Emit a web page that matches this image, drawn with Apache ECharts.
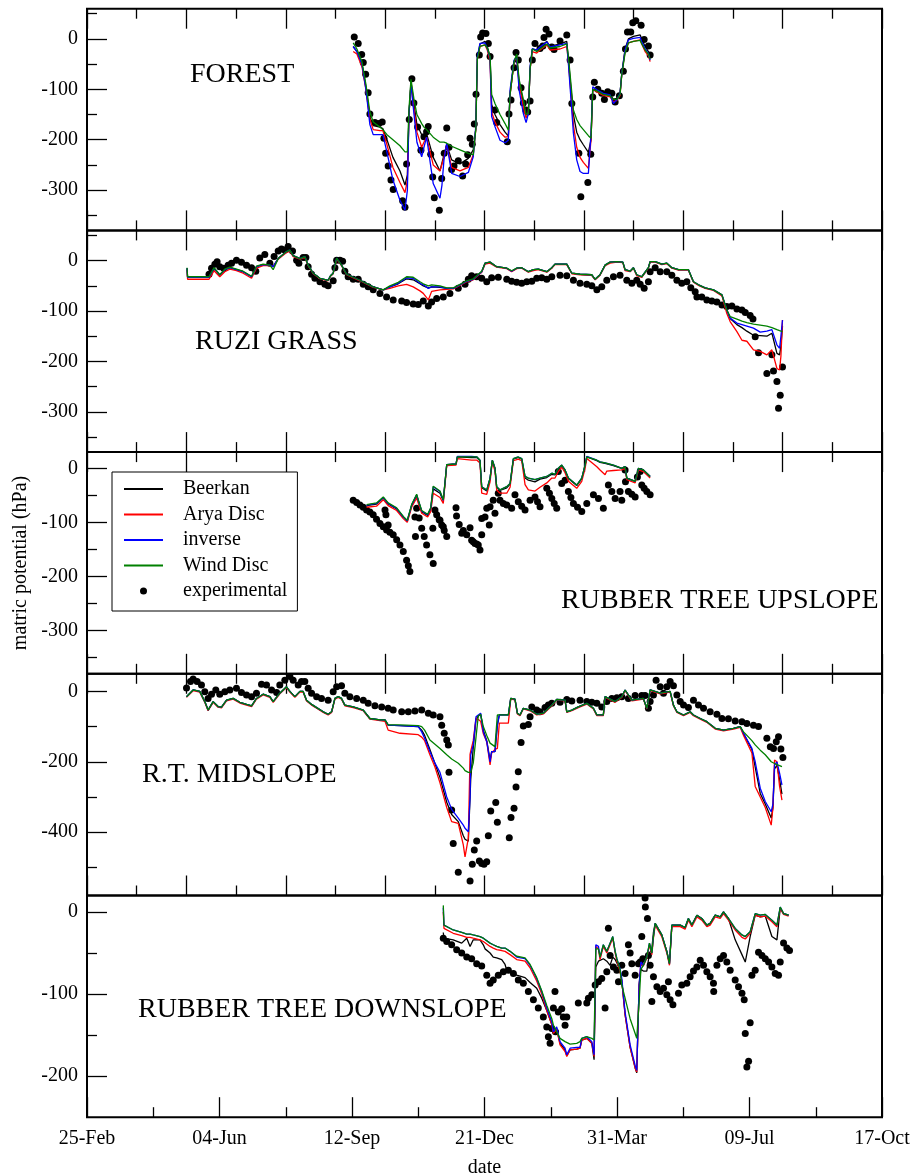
<!DOCTYPE html>
<html>
<head>
<meta charset="utf-8">
<script src="https://cdn.jsdelivr.net/npm/echarts@6/dist/echarts.min.js"></script>
<style>
html,body{margin:0;padding:0;background:#fff;}
#chart{width:913px;height:1174px;}
</style>
</head>
<body>
<div id="chart"></div>
<script>
// ---------------- DATA (x = days after 25-Feb, y = matric potential in hPa) ----------------
const tickLabels = ['25-Feb','04-Jun','12-Sep','21-Dec','31-Mar','09-Jul','17-Oct'];
const seriesNames = ['Beerkan','Arya Disc','inverse','Wind Disc','experimental'];

// FOREST
const forestDays = [200.9,203.7,207.5,210.5,213.5,216.0,221.1,223.3,226.4,230.9,236.2,240.0,241.8,243.0,244.5,246.8,249.0,252.6,254.3,256.3,261.3,266.4,267.9,269.4,271.5,275.2,281.5,287.8,291.5,293.4,294.6,296.6,300.4,302.1,304.2,305.4,307.9,311.7,315.5,318.0,319.3,322.3,324.3,326.1,329.3,331.4,333.1,334.4,336.1,339.4,341.9,347.0,349.5,357.0,362.1,363.3,365.3,367.1,369.6,372.1,374.6,378.4,380.4,381.7,384.8,389.7,394.8,397.3,399.9,402.3,403.6,406.1,408.6,412.4,417.5,418.7,421.2,423.7,425.0];
const forestBeerkan = [-15,-25,-50,-95,-155,-172,-175,-178,-200,-235,-262,-290,-270,-150,-85,-130,-170,-190,-190,-188,-235,-262,-265,-230,-210,-240,-248,-237,-220,-180,-40,-10,-5,-15,-35,-130,-150,-170,-185,-193,-110,-45,-35,-85,-125,-150,-145,-60,-20,-22,-15,-5,-15,-10,-5,-40,-100,-150,-185,-200,-210,-225,-200,-100,-100,-108,-110,-120,-118,-108,-70,-20,0,5,8,0,-15,-25,-38];
const forestArya = [-25,-30,-55,-100,-160,-180,-182,-182,-210,-255,-285,-305,-280,-150,-90,-140,-185,-215,-205,-195,-250,-262,-265,-235,-210,-255,-262,-255,-230,-180,-40,-15,-12,-22,-45,-145,-165,-185,-195,-194,-110,-45,-35,-90,-135,-157,-145,-60,-25,-28,-22,-12,-22,-20,-15,-45,-110,-170,-215,-235,-245,-257,-200,-100,-105,-112,-115,-125,-122,-112,-70,-25,-8,-5,-2,-10,-25,-33,-45];
const forestInverse = [-15,-25,-50,-100,-170,-190,-190,-190,-225,-280,-320,-340,-300,-150,-90,-150,-205,-234,-215,-195,-287,-316,-290,-240,-207,-267,-273,-265,-234,-174,-35,-9,-8,-19,-38,-154,-174,-201,-206,-201,-101,-42,-35,-101,-148,-166,-148,-55,-19,-22,-16,-6,-16,-12,-9,-48,-121,-187,-240,-263,-267,-267,-187,-95,-101,-108,-111,-128,-121,-108,-68,-22,-2,1,3,-6,-19,-29,-42];
const forestWind = [-8,-20,-45,-90,-145,-165,-175,-180,-190,-200,-212,-224,-224,-140,-80,-120,-150,-168,-175,-180,-195,-205,-205,-205,-207,-213,-220,-227,-230,-180,-40,-15,-12,-18,-35,-110,-128,-150,-168,-181,-110,-45,-30,-80,-120,-150,-148,-60,-20,-25,-20,-10,-18,-15,-10,-35,-90,-141,-160,-172,-180,-192,-197,-100,-103,-110,-113,-120,-120,-110,-70,-28,-8,-5,-3,-10,-22,-30,-40];
const forestExp = [[201.7,4],[204.7,-9],[207.3,-31],[208.5,-47],[210.3,-70],[212.2,-107],[213.5,-149],[217.3,-166],[220.3,-168],[222.8,-165],[224.1,-197],[225.4,-227],[227.3,-252],[229.4,-280],[231.1,-299],[238.2,-321],[240.0,-334],[241.2,-248],[243.2,-160],[245.2,-79],[246.7,-127],[249.5,-175],[252.0,-221],[254.3,-194],[256.3,-184],[257.5,-174],[259.4,-229],[260.9,-274],[262.1,-315],[265.9,-340],[267.7,-277],[269.6,-227],[271.5,-177],[273.2,-215],[275.2,-259],[277.0,-252],[280.2,-242],[283.5,-272],[285.8,-248],[287.3,-230],[289.1,-197],[290.8,-209],[292.3,-169],[293.6,-110],[296.1,-32],[297.1,4],[298.6,12],[301.1,11],[302.9,-9],[304.2,-35],[307.9,-141],[309.2,-166],[317.2,-204],[318.5,-149],[320.0,-121],[322.3,-57],[323.8,-27],[325.5,-42],[327.6,-97],[329.3,-127],[331.1,-141],[332.6,-145],[334.4,-123],[336.1,-42],[338.1,-9],[341.9,-19],[344.0,-14],[344.9,3],[346.5,19],[348.7,10],[350.8,-16],[352.5,-21],[357.0,-4],[362.1,8],[364.6,-42],[365.9,-128],[371.2,-227],[372.7,-313],[378.0,-285],[380.2,-229],[381.7,-115],[382.9,-86],[385.5,-100],[388.5,-108],[390.5,-120],[393.0,-105],[396.1,-108],[398.6,-125],[401.8,-113],[404.8,-64],[406.4,-20],[407.9,14],[410.4,14],[411.9,32],[414.2,36],[418.2,27],[420.5,-1],[423.7,-14],[425.0,-32]];

// RUZI GRASS
const ruziDays = [75.5,75.9,92.1,95.9,100.2,104.0,107.8,112.8,117.8,124.2,127.9,132.9,138.0,140.5,144.3,150.6,153.1,155.6,160.7,164.4,166.9,170.7,175.8,182.0,183.8,185.8,188.4,192.1,195.9,206.0,216.0,223.6,228.6,234.9,241.2,246.2,251.3,253.8,257.6,260.1,266.4,271.5,276.5,286.6,291.5,297.9,300.4,304.1,309.2,316.8,320.5,324.3,328.1,333.1,336.9,340.6,347.0,350.8,353.2,362.1,365.9,372.1,380.9,383.5,387.2,391.0,394.8,399.9,404.4,406.1,409.9,412.4,414.9,418.7,423.7,425.0,428.8,433.8,437.6,441.4,446.4,453.9,457.7,461.5,466.5,472.8,479.2,482.9,485.4,490.5,494.3,498.0,503.0,508.1,513.1,516.9,520.7,522.7,523.7,524.9];
const ruziBeerkan = [-15,-33,-33,-16,-29,-19,-14,-18,-22,-32,-12,-8,-9,-12,4,18,21,10,4,8,-9,-25,-35,-39,-30,-25,5,-9,-27,-39,-52,-58,-52,-46,-36,-38,-46,-50,-54,-52,-53,-55,-55,-41,-37,-22,-5,-3,-12,-15,-21,-15,-14,-22,-18,-17,-22,-14,-7,-7,-25,-27,-28,-37,-28,-9,-3,-2,-3,-18,-21,-14,-28,-32,-14,-2,-2,-7,-5,-14,-18,-18,-42,-48,-54,-58,-68,-98,-115,-127,-133,-140,-148,-149,-150,-144,-184,-187,-170,-130];
const ruziArya = [-18,-37,-37,-20,-32,-22,-17,-20,-25,-35,-15,-10,-10,-12,3,16,19,8,3,6,-10,-26,-36,-40,-31,-26,3,-10,-28,-40,-53,-58,-55,-50,-47,-52,-60,-65,-78,-61,-58,-57,-56,-42,-38,-23,-7,-5,-13,-16,-22,-16,-15,-23,-20,-18,-23,-15,-8,-8,-26,-28,-29,-38,-29,-10,-5,-3,-4,-20,-22,-15,-30,-33,-15,-3,-3,-8,-6,-15,-19,-19,-43,-49,-55,-59,-70,-105,-121,-141,-158,-160,-177,-180,-187,-177,-214,-217,-190,-118];
const ruziInverse = [-15,-33,-33,-15,-28,-18,-14,-18,-22,-32,-12,-8,-9,-12,4,18,21,10,4,8,-9,-25,-35,-39,-30,-25,5,-9,-27,-39,-52,-58,-52,-45,-34,-35,-45,-48,-55,-52,-52,-55,-55,-41,-37,-22,-5,-3,-12,-15,-21,-15,-14,-22,-18,-17,-22,-14,-7,-7,-25,-27,-28,-37,-28,-9,-3,-2,-3,-18,-21,-14,-28,-32,-14,-2,-2,-7,-5,-14,-18,-18,-42,-48,-54,-58,-68,-98,-114,-124,-127,-130,-134,-142,-140,-137,-167,-174,-150,-118];
const ruziWind = [-14,-32,-32,-14,-28,-17,-13,-17,-21,-31,-11,-7,-9,-18,4,18,21,10,4,8,-9,-25,-35,-39,-30,-25,5,-9,-27,-39,-52,-58,-50,-43,-32,-33,-42,-46,-50,-48,-50,-54,-54,-40,-36,-21,-5,-3,-12,-15,-20,-15,-14,-22,-18,-17,-22,-14,-7,-7,-25,-27,-28,-37,-28,-9,-3,-2,-3,-18,-21,-14,-28,-32,-14,-2,-2,-7,-5,-14,-18,-18,-42,-48,-54,-58,-68,-98,-111,-116,-120,-123,-126,-128,-130,-133,-137,-139,-140,-141];
const ruziExp = [[92.1,-27],[94.0,-15],[96.5,-7],[98.2,-2],[100.2,-12],[103.2,-15],[106.5,-9],[109.1,-5],[112.8,1],[116.6,-3],[120.4,-9],[124.2,-14],[127.4,-21],[130.4,5],[134.2,12],[138.0,-5],[141.2,8],[144.3,19],[146.8,23],[149.3,21],[151.8,28],[155.1,19],[158.2,1],[159.9,-5],[163.1,6],[165.2,6],[166.9,-12],[169.5,-27],[172.0,-35],[175.8,-42],[179.5,-47],[182.0,-50],[185.8,-40],[187.1,-14],[188.4,1],[190.9,1],[192.9,-1],[194.6,-21],[197.1,-32],[200.9,-37],[204.7,-37],[208.5,-47],[212.2,-52],[216.0,-58],[221.1,-65],[226.1,-72],[231.1,-78],[237.5,-80],[241.2,-83],[246.2,-86],[250.0,-87],[253.8,-80],[257.6,-90],[260.1,-82],[263.9,-75],[268.9,-72],[273.9,-65],[280.2,-55],[285.3,-47],[287.8,-37],[290.3,-30],[294.1,-32],[297.9,-35],[301.7,-42],[305.4,-34],[310.4,-33],[316.8,-37],[320.5,-41],[324.3,-43],[328.1,-45],[331.9,-42],[335.7,-41],[339.4,-35],[343.2,-34],[347.0,-37],[350.8,-32],[357.0,-29],[362.1,-30],[367.1,-39],[372.1,-45],[377.2,-47],[381.0,-50],[384.8,-58],[388.5,-52],[392.3,-39],[397.3,-32],[402.3,-29],[407.4,-39],[411.2,-45],[414.9,-39],[417.5,-47],[420.5,-55],[423.7,-42],[425.0,-22],[428.8,-14],[432.6,-22],[437.6,-22],[441.4,-29],[445.2,-39],[448.9,-45],[452.7,-42],[455.7,-54],[459.0,-62],[460.3,-72],[464.0,-72],[467.8,-78],[471.6,-80],[475.4,-82],[479.2,-88],[482.9,-91],[486.7,-90],[490.5,-96],[494.3,-98],[496.8,-103],[500.5,-109],[502.6,-116],[504.3,-151],[506.8,-183],[513.1,-224],[516.9,-187],[518.1,-219],[520.7,-240],[523.2,-267],[521.9,-293],[524.9,-211]];

// RUBBER TREE UPSLOPE
const upDays = [211.0,218.5,223.6,227.3,233.7,238.7,241.7,245.0,248.8,250.0,252.6,257.1,259.4,261.3,266.4,268.9,271.5,278.5,279.5,290.3,294.3,296.6,297.9,301.7,304.2,305.9,307.9,309.2,311.7,316.8,319.3,321.8,325.5,328.1,330.6,333.1,338.1,341.9,347.0,350.8,353.2,355.7,358.3,360.8,363.3,369.6,373.4,375.9,377.2,384.8,387.2,391.0,392.3,397.3,403.6,406.1,407.4,413.7,416.2,419.9,425.0];
const upBeerkan = [-69,-66,-55,-66,-75,-90,-98,-69,-50,-60,-80,-87,-75,-38,-46,-60,7,8,21,20,20,14,-36,-42,-19,15,0,-35,-41,-36,-29,17,20,17,-18,-22,-25,-20,-17,-11,-12,-1,5,-4,-19,-32,-19,5,21,14,11,9,8,5,0,3,-18,-24,0,-3,-15];
const upArya = [-72,-70,-58,-69,-78,-93,-100,-72,-55,-64,-83,-90,-80,-46,-54,-65,5,6,18,15,15,10,-46,-48,-25,12,-5,-40,-46,-46,-35,14,17,14,-30,-40,-42,-35,-27,-18,-18,-6,2,-8,-24,-37,-24,0,18,3,-3,-12,-5,-4,-3,0,-21,-27,-3,-6,-18];
const upInverse = [-68,-65,-54,-65,-74,-90,-97,-68,-49,-59,-79,-86,-74,-34,-43,-59,7,8,22,22,21,15,-34,-40,-18,15,0,-34,-40,-34,-28,18,21,18,-15,-18,-21,-18,-15,-9,-11,0,6,-3,-18,-31,-18,6,22,15,12,10,9,6,0,3,-18,-24,0,-3,-15];
const upWind = [-67,-64,-53,-64,-73,-89,-96,-67,-48,-58,-78,-85,-73,-33,-42,-58,7,8,21,21,21,15,-34,-40,-18,15,0,-34,-40,-34,-28,18,21,18,-15,-18,-21,-18,-15,-9,-11,0,6,-3,-18,-31,-18,6,21,15,12,10,9,6,0,3,-18,-24,0,-3,-15];
const upExp = [[200.9,-59],[203.5,-63],[206.0,-68],[208.5,-72],[211.0,-77],[213.5,-81],[216.0,-86],[218.5,-94],[221.1,-102],[223.6,-108],[226.1,-114],[228.6,-118],[231.1,-123],[233.7,-132],[236.2,-142],[238.7,-154],[241.2,-170],[242.5,-180],[243.7,-191],[224.9,-77],[225.6,-86],[227.3,-105],[247.5,-90],[247.9,-126],[248.8,-74],[250.7,-92],[252.6,-111],[254.5,-126],[256.3,-142],[258.8,-160],[261.3,-176],[262.6,-77],[263.9,-86],[265.8,-95],[267.7,-105],[269.6,-115],[271.5,-126],[261.0,-111],[278.5,-73],[278.9,-88],[280.9,-104],[282.8,-120],[266.4,-96],[268.9,-108],[284.0,-115],[286.6,-123],[289.1,-110],[290.3,-133],[291.5,-136],[292.8,-139],[294.1,-140],[295.3,-142],[296.6,-151],[297.9,-123],[297.9,-93],[300.4,-90],[301.7,-74],[303.6,-105],[304.2,-71],[306.6,-59],[307.9,-83],[310.4,-46],[311.7,-59],[314.2,-65],[316.8,-68],[320.5,-74],[323.0,-49],[325.5,-62],[328.1,-70],[330.6,-77],[334.4,-59],[338.1,-53],[340.0,-62],[341.9,-71],[347.0,-37],[349.0,-46],[350.8,-56],[352.6,-65],[354.5,-74],[355.7,-6],[358.3,-28],[360.8,-22],[363.3,-43],[365.2,-54],[367.1,-65],[370.2,-72],[373.4,-80],[377.2,-65],[382.2,-49],[386.0,-56],[389.7,-74],[393.5,-31],[396.1,-43],[398.6,-56],[402.3,-43],[403.6,-59],[406.1,-3],[406.4,-25],[408.6,-43],[411.2,-48],[413.7,-53],[415.4,-16],[417.5,-6],[418.7,-31],[420.5,-37],[422.5,-43],[425.0,-49]];

// R.T. MIDSLOPE
const midDays = [75.1,80.1,85.1,88.9,91.4,95.2,98.9,101.5,105.3,110.3,115.3,120.4,124.2,127.9,132.9,138.0,140.5,145.5,150.6,153.1,156.9,160.7,163.1,165.7,169.5,173.3,178.3,182.0,184.6,187.1,189.6,192.1,194.6,200.9,208.5,213.5,221.1,224.9,227.3,236.2,250.0,252.6,254.8,258.8,262.6,266.4,271.5,275.2,280.2,284.0,285.3,287.8,289.1,289.6,291.5,293.6,295.3,297.1,299.1,301.7,304.2,305.4,307.9,309.7,311.2,318.0,319.8,323.0,324.8,326.8,329.3,334.4,339.4,344.4,350.8,354.5,360.8,362.1,365.9,370.8,377.2,382.2,384.8,389.7,391.0,398.6,403.6,406.1,411.2,419.9,422.5,425.0,432.6,440.1,442.6,445.2,450.2,455.2,457.7,462.8,467.8,474.1,480.4,487.9,493.0,495.5,501.8,504.3,508.1,511.9,516.4,517.7,518.9,520.7,522.7,524.5];
const midBeerkan = [-15,4,0,-29,-53,-29,-43,-45,-25,-20,-31,-37,-41,-20,-8,-15,-29,-5,13,0,-15,0,0,-25,-37,-46,-58,-65,-58,-20,-15,-20,-39,-44,-53,-77,-81,-81,-96,-97,-100,-110,-125,-165,-205,-245,-315,-350,-370,-410,-420,-426,-300,-250,-160,-80,-70,-65,-110,-140,-195,-171,-171,-96,-67,-67,-20,-22,-62,-67,-48,-53,-65,-62,-39,-23,-25,-58,-53,-44,-34,-48,-67,-67,-15,-29,-15,4,-25,-20,-48,4,-5,0,-39,-58,-67,-58,-67,-77,-86,-105,-110,-105,-100,-120,-165,-215,-290,-320,-360,-330,-220,-210,-250,-292];
const midArya = [-17,2,-2,-31,-55,-31,-45,-47,-27,-22,-33,-39,-43,-22,-10,-17,-31,-7,11,-2,-17,-2,-2,-27,-39,-48,-60,-67,-60,-22,-17,-22,-41,-46,-55,-79,-83,-85,-110,-119,-123,-130,-140,-180,-215,-260,-330,-370,-375,-436,-470,-417,-179,-170,-140,-76,-80,-85,-120,-143,-209,-175,-165,-162,-90,-90,-22,-24,-64,-69,-50,-55,-67,-64,-41,-25,-27,-60,-55,-46,-36,-50,-69,-69,-17,-31,-17,2,-27,-22,-50,2,-7,-2,-41,-60,-69,-60,-69,-79,-88,-107,-112,-107,-102,-125,-175,-270,-300,-330,-380,-330,-195,-200,-270,-309];
const midInverse = [-15,4,0,-29,-53,-29,-43,-45,-25,-20,-31,-37,-41,-20,-8,-15,-29,-5,13,0,-15,0,0,-25,-37,-46,-58,-65,-58,-20,-15,-20,-39,-44,-53,-77,-81,-81,-96,-97,-100,-115,-133,-171,-204,-230,-300,-335,-360,-380,-389,-399,-300,-181,-152,-72,-67,-62,-115,-143,-200,-171,-171,-96,-67,-67,-20,-22,-62,-67,-48,-53,-65,-62,-39,-23,-25,-58,-53,-44,-34,-48,-67,-67,-15,-29,-15,4,-25,-20,-48,4,-5,0,-39,-58,-67,-58,-67,-77,-86,-105,-110,-105,-100,-119,-162,-200,-275,-313,-342,-320,-209,-200,-232,-266];
const midWind = [-15,4,0,-29,-53,-29,-43,-45,-25,-20,-31,-37,-41,-20,-8,-15,-29,-5,13,0,-15,0,0,-25,-37,-46,-58,-65,-58,-20,-15,-20,-39,-44,-53,-77,-81,-81,-95,-95,-97,-100,-110,-138,-150,-162,-180,-192,-204,-218,-225,-230,-233,-230,-204,-130,-70,-65,-100,-125,-147,-152,-157,-67,-67,-67,-20,-22,-62,-67,-48,-53,-65,-62,-39,-23,-25,-58,-53,-44,-34,-48,-67,-67,-15,-29,-15,4,-25,-20,-48,4,-5,0,-39,-58,-67,-58,-67,-77,-86,-105,-110,-105,-100,-115,-140,-152,-167,-180,-200,-203,-205,-208,-211,-214];
const midExp = [[75.1,10],[78.1,28],[80.1,35],[83.1,28],[86.4,18],[88.9,-1],[91.4,-20],[94.0,-8],[97.2,4],[100.2,-8],[104.0,-1],[107.8,4],[112.8,9],[116.6,-3],[120.4,-10],[124.2,-15],[127.9,-5],[131.7,20],[135.5,18],[139.3,4],[143.1,-3],[145.5,18],[149.3,32],[153.1,42],[155.6,32],[159.4,18],[161.9,28],[164.4,28],[166.9,9],[169.5,-5],[173.3,-15],[177.0,-20],[182.0,-25],[185.8,-1],[188.4,13],[192.1,16],[194.6,-5],[198.4,-15],[203.5,-20],[208.5,-25],[212.2,-34],[217.3,-41],[222.4,-44],[227.3,-48],[231.1,-53],[237.5,-58],[242.5,-58],[247.5,-56],[252.6,-53],[257.6,-62],[261.3,-67],[266.4,-72],[267.7,-96],[269.6,-119],[271.5,-138],[272.7,-152],[273.2,-230],[275.2,-337],[276.4,-432],[280.2,-514],[289.1,-539],[290.8,-491],[292.3,-451],[294.1,-425],[296.1,-482],[297.9,-489],[299.6,-491],[301.7,-484],[302.9,-410],[304.7,-340],[308.5,-316],[309.7,-372],[318.7,-416],[320.0,-358],[322.3,-332],[323.8,-272],[325.5,-228],[327.6,-145],[329.3,-98],[333.1,-94],[334.4,-72],[335.7,-44],[339.4,-53],[341.9,-58],[345.7,-46],[348.2,-39],[350.8,-34],[357.0,-31],[362.1,-23],[365.9,-27],[372.1,-25],[377.2,-29],[381.0,-31],[384.8,-34],[388.5,-44],[392.3,-29],[396.1,-20],[399.9,-18],[403.6,-15],[408.6,-20],[413.7,-12],[418.7,-12],[421.2,-12],[423.7,-48],[425.0,-29],[427.5,-10],[429.5,32],[432.6,13],[435.1,-5],[437.6,13],[440.1,28],[442.6,16],[445.2,-10],[447.7,-29],[450.2,-39],[453.9,-46],[457.7,-25],[461.5,-39],[465.3,-48],[470.3,-58],[475.4,-65],[479.2,-77],[484.1,-78],[489.2,-84],[494.3,-86],[498.0,-91],[503.0,-96],[506.8,-100],[513.1,-133],[515.7,-157],[518.1,-162],[520.2,-143],[521.9,-129],[523.7,-164],[525.2,-188]];

// RUBBER TREE DOWNSLOPE
const downDays = [268.9,269.4,276.4,282.8,286.6,289.1,291.5,296.6,299.1,300.4,304.2,306.6,309.2,313.0,315.5,316.8,319.3,324.3,330.6,334.4,339.4,343.2,347.0,350.8,352.0,354.5,357.0,360.8,362.1,364.6,369.6,372.1,373.4,377.2,381.0,382.7,384.0,386.0,387.2,389.7,392.3,394.8,396.8,398.6,399.9,402.3,403.6,406.1,409.9,413.7,414.9,416.7,418.0,419.9,422.5,424.5,426.3,427.5,428.8,433.8,437.6,439.6,441.4,447.7,451.4,453.9,456.5,460.3,464.0,467.8,470.3,474.1,477.9,480.4,484.1,489.2,494.3,496.8,500.5,504.3,508.1,511.9,516.9,520.7,523.2,525.7,529.5];
const downBeerkan = [-25,-32,-34,-38,-32,-42,-34,-34,-40,-45,-50,-55,-56,-58,-64,-71,-73,-77,-80,-86,-93,-105,-120,-137,-148,-142,-160,-168,-175,-168,-167,-166,-156,-154,-160,-180,-67,-60,-60,-57,-60,-65,-55,-58,-62,-72,-84,-125,-165,-190,-196,-89,-70,-72,-72,-50,-45,-25,-14,-28,-48,-63,-16,-16,-19,-8,-16,-4,-8,-16,-14,-4,-6,0,-8,-34,-52,-61,-30,-4,-6,-5,-30,-34,5,-2,-4];
const downArya = [0,-20,-26,-29,-31,-31,-32,-34,-36,-38,-42,-44,-46,-47,-48,-50,-52,-58,-60,-68,-84,-100,-120,-137,-148,-143,-162,-170,-176,-168,-167,-166,-156,-154,-160,-176,-42,-45,-58,-42,-50,-40,-32,-50,-60,-72,-84,-125,-165,-190,-195,-90,-62,-66,-56,-40,-52,-32,-16,-30,-50,-65,-18,-18,-21,-10,-18,-6,-10,-18,-16,-6,-8,-2,-10,-22,-31,-33,-26,-4,-6,-5,-12,-18,4,-3,-5];
const downInverse = [5,-16,-22,-25,-27,-27,-28,-30,-32,-34,-38,-40,-42,-44,-44,-46,-48,-55,-57,-65,-81,-97,-117,-134,-146,-140,-158,-166,-174,-166,-165,-165,-154,-152,-158,-174,-40,-42,-55,-40,-48,-38,-30,-48,-57,-69,-81,-122,-162,-187,-193,-89,-61,-65,-55,-38,-50,-30,-14,-28,-48,-63,-16,-16,-19,-8,-16,-4,-8,-16,-14,-4,-6,0,-8,-20,-28,-30,-24,-2,-4,-3,-10,-16,6,-2,-4];
const downWind = [8,-16,-22,-25,-27,-27,-28,-30,-32,-34,-38,-40,-42,-44,-44,-46,-48,-54,-56,-64,-80,-96,-114,-130,-138,-146,-154,-158,-160,-161,-160,-158,-154,-152,-154,-156,-45,-45,-55,-40,-48,-38,-30,-48,-57,-70,-89,-105,-130,-148,-154,-110,-70,-65,-55,-38,-50,-30,-14,-28,-48,-63,-16,-16,-19,-8,-16,-4,-8,-16,-14,-4,-6,0,-8,-20,-28,-30,-24,-2,-4,-3,-10,-16,6,-2,-4];
const downExp = [[268.9,-32],[271.5,-36],[275.2,-40],[279.0,-46],[282.8,-50],[286.6,-55],[290.3,-57],[294.1,-63],[297.9,-66],[301.7,-77],[304.2,-87],[306.6,-83],[310.4,-77],[314.2,-73],[318.0,-71],[321.8,-75],[325.5,-83],[329.3,-87],[333.1,-97],[336.9,-107],[340.6,-117],[344.4,-128],[347.0,-140],[348.2,-152],[349.5,-160],[353.2,-97],[352.0,-117],[355.7,-122],[358.3,-118],[359.5,-128],[360.8,-138],[362.1,-128],[350.8,-142],[353.6,-146],[370.8,-111],[377.2,-111],[378.4,-105],[381.0,-101],[383.5,-89],[386.0,-85],[388.5,-81],[391.0,-117],[392.3,-73],[393.5,-20],[394.8,-53],[397.3,-67],[399.9,-71],[401.1,-85],[403.6,-65],[406.1,-75],[408.6,-40],[409.9,-50],[411.2,-63],[413.7,-77],[416.2,-63],[417.5,-61],[418.7,-30],[419.5,-57],[421.2,17],[421.4,6],[423.0,-8],[423.7,-53],[425.0,-65],[426.3,-109],[427.5,-79],[430.1,-91],[432.6,-97],[435.1,-93],[437.6,-101],[440.1,-107],[442.2,-113],[438.8,-85],[446.4,-99],[448.9,-89],[452.7,-87],[455.2,-79],[457.7,-72],[460.3,-67],[462.8,-59],[465.3,-65],[467.8,-73],[470.3,-79],[472.8,-87],[473.0,-97],[475.4,-65],[477.9,-57],[480.4,-53],[482.9,-61],[485.4,-71],[489.2,-83],[491.7,-91],[494.3,-99],[496.0,-107],[496.8,-148],[498.0,-189],[499.3,-182],[500.5,-135],[501.8,-77],[504.3,-71],[506.8,-49],[509.4,-53],[511.9,-57],[514.4,-61],[516.9,-67],[519.4,-75],[521.9,-77],[523.2,-61],[525.7,-38],[528.2,-44],[530.2,-47]];

// axis value ranges and tick values for each panel
const yMin = [-380,-380,-380,-580,-250];
const yMax = [60,60,30,50,20];
const yMajor = [[0,-100,-200,-300],[0,-100,-200,-300],[0,-100,-200,-300],[0,-200,-400],[0,-100,-200]];
const yMinor = [[50,-50,-150,-250,-350],[50,-50,-150,-250,-350],[-50,-150,-250,-350],[-100,-300,-500],[-50,-150]];
const panelTitles = ['FOREST','RUZI GRASS','RUBBER TREE UPSLOPE','R.T. MIDSLOPE','RUBBER TREE DOWNSLOPE'];

// ---------------- CHART ----------------
const FONT = "'Liberation Serif', 'Times New Roman', serif";
const colors = {'Beerkan':'#000000','Arya Disc':'#ff0000','inverse':'#0000ff','Wind Disc':'#008000'};
const panels = [
  {days:forestDays, lines:[forestBeerkan,forestArya,forestInverse,forestWind], exp:forestExp},
  {days:ruziDays, lines:[ruziBeerkan,ruziArya,ruziInverse,ruziWind], exp:ruziExp},
  {days:upDays, lines:[upBeerkan,upArya,upInverse,upWind], exp:upExp},
  {days:midDays, lines:[midBeerkan,midArya,midInverse,midWind], exp:midExp},
  {days:downDays, lines:[downBeerkan,downArya,downInverse,downWind], exp:downExp}
];
const titlePos = [
  {x:190, y:74.7, align:'left'},
  {x:195, y:341.7, align:'left'},
  {x:878.5, y:600.8, align:'right'},
  {x:142, y:774.5, align:'left'},
  {x:138, y:1010, align:'left'}
];

const GL = 87, GR = 31, GT = 8.7, GH = 221.7;
const grids = [], xAxes = [], yAxes = [], series = [], graphics = [];
const tickStyle = {color:'#000', width:1.3};

panels.forEach((p, i) => {
  const last = i === 4;
  grids.push({left:GL, right:GR, top:GT + i*GH, height:GH, show:true, borderColor:'#000', borderWidth:2,
    backgroundColor:'transparent', containLabel:false, outerBoundsMode:'none'});
  const baseX = {
    type:'value', gridIndex:i, min:0, max:600, interval: last ? 100 : 75,
    axisLine:{show:false, onZero:false}, splitLine:{show:false},
    axisTick:{show:true, inside:true, length:20, lineStyle:tickStyle},
    minorTick:{show:true, splitNumber:2, length:10, lineStyle:tickStyle},
    minorSplitLine:{show:false}
  };
  const bx = xAxes.length;
  xAxes.push(Object.assign({}, baseX, {
    position:'bottom',
    axisLabel:{show:last, showMinLabel:true, showMaxLabel:true, margin:12, fontFamily:FONT, fontSize:20, color:'#000',
      formatter: v => tickLabels[Math.round(v/100)] || ''},
    name: last ? 'date' : '', nameLocation:'middle', nameGap:41,
    nameTextStyle:{fontFamily:FONT, fontSize:20, color:'#000'}
  }));
  if (!last) {
    xAxes.push(Object.assign({}, baseX, {position:'top', axisLabel:{show:false}}));
  }
  const my = yAxes.length;
  yAxes.push({
    type:'value', gridIndex:i, position:'left', min:yMin[i], max:yMax[i],
    axisLine:{show:false, onZero:false}, splitLine:{show:false},
    axisTick:{show:true, inside:true, length:20, lineStyle:tickStyle, customValues:yMajor[i]},
    axisLabel:{show:true, customValues:yMajor[i], margin:9, fontFamily:FONT, fontSize:20, color:'#000'},
    name: i === 2 ? 'matric potential (hPa)' : '', nameLocation:'middle', nameRotate:90, nameGap:56,
    nameTextStyle:{fontFamily:FONT, fontSize:20, color:'#000'}
  });
  yAxes.push({
    type:'value', gridIndex:i, position:'left', min:yMin[i], max:yMax[i],
    axisLine:{show:false, onZero:false}, splitLine:{show:false},
    axisTick:{show:true, inside:true, length:10, lineStyle:tickStyle, customValues:yMinor[i]},
    axisLabel:{show:false, customValues:yMinor[i]}
  });
  ['Beerkan','Arya Disc','inverse','Wind Disc'].forEach((nm, k) => {
    series.push({
      type:'line', name:nm, xAxisIndex:bx, yAxisIndex:my,
      data: p.days.map((d, j) => [d, p.lines[k][j]]),
      showSymbol:false, symbol:'none', clip:true,
      lineStyle:{color:colors[nm], width:1.3}, itemStyle:{color:colors[nm]},
      emphasis:{disabled:true}, animation:false
    });
  });
  series.push({
    type:'scatter', name:'experimental', xAxisIndex:bx, yAxisIndex:my,
    data:p.exp, symbol:'circle', symbolSize:7, itemStyle:{color:'#000', opacity:1},
    emphasis:{disabled:true}, animation:false, clip:true
  });
  graphics.push({
    type:'text', x:titlePos[i].x, y:titlePos[i].y, z:10,
    style:{text:panelTitles[i], fill:'#000', font:"28px 'Liberation Serif', 'Times New Roman', serif",
      textAlign:titlePos[i].align, textVerticalAlign:'middle', align:titlePos[i].align, verticalAlign:'middle'}
  });
});

const legendData = seriesNames.map(nm => nm === 'experimental'
  ? {name:nm}
  : {name:nm, itemStyle:{opacity:0}});

const chart = echarts.init(document.getElementById('chart'), null, {renderer:'canvas'});
chart.setOption({
  animation:false,
  backgroundColor:'#fff',
  grid:grids, xAxis:xAxes, yAxis:yAxes, series:series, graphic:graphics,
  legend:{
    orient:'vertical', left:112, top:472, data:legendData,
    itemWidth:39, itemHeight:7, itemGap:5.5, padding:[7,10,10,11],
    borderColor:'#000', borderWidth:1, backgroundColor:'#fff', selectedMode:false,
    textStyle:{fontFamily:FONT, fontSize:20, color:'#000', lineHeight:20, padding:[0,0,0,15]}
  }
});
</script>
</body>
</html>
